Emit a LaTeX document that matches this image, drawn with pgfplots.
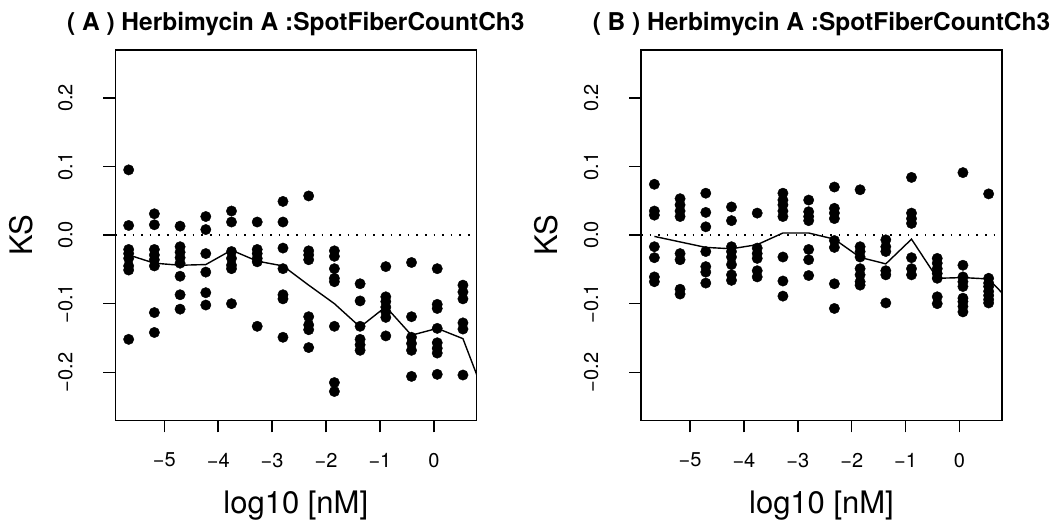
\documentclass[border=0pt]{standalone}
\usepackage{fontspec}
\setmainfont{TeX Gyre Heros}
\usepackage{pgfplots}
\pgfplotsset{compat=1.18}
\usepackage{pgfplotstable}

% Panel A points
\pgfplotstableread{
x y
-5.662 0.095
-5.662 0.014
-5.662 -0.021
-5.662 -0.027
-5.662 -0.034
-5.662 -0.045
-5.662 -0.051
-5.662 -0.152
-5.185 0.031
-5.185 0.015
-5.185 -0.021
-5.185 -0.029
-5.185 -0.036
-5.185 -0.045
-5.185 -0.113
-5.185 -0.142
-4.708 0.013
-4.708 -0.017
-4.708 -0.025
-4.708 -0.033
-4.708 -0.041
-4.708 -0.060
-4.708 -0.087
-4.708 -0.108
-4.231 0.027
-4.231 0.008
-4.231 -0.027
-4.231 -0.054
-4.231 -0.084
-4.231 -0.102
-3.754 0.035
-3.754 0.019
-3.754 -0.024
-3.754 -0.034
-3.754 -0.044
-3.754 -0.049
-3.754 -0.100
-3.277 0.019
-3.277 -0.021
-3.277 -0.027
-3.277 -0.034
-3.277 -0.039
-3.277 -0.133
-2.799 0.049
-2.799 0.019
-2.799 -0.019
-2.799 -0.049
-2.799 -0.087
-2.799 -0.093
-2.799 -0.149
-2.322 0.057
-2.322 -0.023
-2.322 -0.029
-2.322 -0.036
-2.322 -0.119
-2.322 -0.131
-2.322 -0.138
-2.322 -0.164
-1.845 -0.023
-1.845 -0.031
-1.845 -0.049
-1.845 -0.063
-1.845 -0.068
-1.845 -0.133
-1.845 -0.215
-1.845 -0.228
-1.368 -0.071
-1.368 -0.096
-1.368 -0.133
-1.368 -0.152
-1.368 -0.160
-1.368 -0.168
-0.891 -0.046
-0.891 -0.090
-0.891 -0.097
-0.891 -0.105
-0.891 -0.112
-0.891 -0.120
-0.891 -0.147
-0.414 -0.040
-0.414 -0.119
-0.414 -0.149
-0.414 -0.158
-0.414 -0.168
-0.414 -0.206
0.063 -0.049
0.063 -0.101
0.063 -0.107
0.063 -0.136
0.063 -0.157
0.063 -0.165
0.063 -0.172
0.063 -0.203
0.540 -0.073
0.540 -0.083
0.540 -0.093
0.540 -0.128
0.540 -0.137
0.540 -0.204
}\ptsA

\pgfplotstableread{
x y
-5.662 -0.029
-5.185 -0.041
-4.708 -0.044
-4.231 -0.043
-3.754 -0.022
-3.277 -0.038
-2.799 -0.045
-2.322 -0.073
-1.845 -0.100
-1.368 -0.134
-0.891 -0.1045
-0.414 -0.146
0.063 -0.136
0.540 -0.151
1.017 -0.249
}\lineA

% Panel B points
\pgfplotstableread{
x y
-5.662 0.074
-5.662 0.035
-5.662 0.029
-5.662 -0.017
-5.662 -0.033
-5.662 -0.061
-5.662 -0.068
-5.185 0.053
-5.185 0.044
-5.185 0.035
-5.185 0.027
-5.185 -0.027
-5.185 -0.036
-5.185 -0.079
-5.185 -0.086
-4.708 0.061
-4.708 0.033
-4.708 0.012
-4.708 -0.024
-4.708 -0.046
-4.708 -0.054
-4.708 -0.070
-4.231 0.041
-4.231 0.021
-4.231 -0.017
-4.231 -0.024
-4.231 -0.032
-4.231 -0.043
-4.231 -0.058
-4.231 -0.066
-3.754 0.032
-3.754 -0.019
-3.754 -0.027
-3.754 -0.034
-3.754 -0.052
-3.754 -0.061
-3.277 0.061
-3.277 0.051
-3.277 0.044
-3.277 0.035
-3.277 0.027
-3.277 -0.032
-3.277 -0.067
-3.277 -0.089
-2.799 0.051
-2.799 0.034
-2.799 0.027
-2.799 0.021
-2.799 -0.021
-2.799 -0.036
-2.799 -0.059
-2.322 0.070
-2.322 0.039
-2.322 0.032
-2.322 0.024
-2.322 -0.008
-2.322 -0.018
-2.322 -0.071
-2.322 -0.107
-1.845 0.066
-1.845 -0.017
-1.845 -0.024
-1.845 -0.032
-1.845 -0.049
-1.845 -0.058
-1.845 -0.068
-1.845 -0.073
-1.368 -0.007
-1.368 -0.017
-1.368 -0.024
-1.368 -0.052
-1.368 -0.058
-1.368 -0.099
-0.891 0.084
-0.891 0.032
-0.891 0.024
-0.891 0.017
-0.891 -0.033
-0.891 -0.049
-0.891 -0.058
-0.414 -0.034
-0.414 -0.041
-0.414 -0.049
-0.414 -0.056
-0.414 -0.063
-0.414 -0.090
-0.414 -0.100
0.063 0.091
0.063 -0.044
0.063 -0.061
0.063 -0.068
0.063 -0.075
0.063 -0.092
0.063 -0.097
0.063 -0.104
0.063 -0.112
0.540 0.060
0.540 -0.063
0.540 -0.070
0.540 -0.075
0.540 -0.082
0.540 -0.088
0.540 -0.094
0.540 -0.099
}\ptsB

\pgfplotstableread{
x y
-5.662 -0.002
-5.185 -0.010
-4.708 -0.018
-4.231 -0.020
-3.754 -0.014
-3.277 0.003
-2.799 0.003
-2.322 -0.006
-1.845 -0.0325
-1.368 -0.042
-0.891 -0.006
-0.414 -0.063
0.063 -0.062
0.540 -0.064
1.017 -0.103
}\lineB

\begin{document}
\begin{tikzpicture}
\pgfplotsset{
  panel/.style={
    width=361pt, height=370.5pt, scale only axis,
    xmin=-5.91, xmax=0.788, ymin=-0.27, ymax=0.27,
    axis line style={line width=1.5pt},
    tick style={line width=1.5pt, black},
    major tick length=12pt,
    tick align=outside,
    xtick pos=left, ytick pos=left,
    xtick={-5,-4,-3,-2,-1,0},
    xticklabels={−5,−4,−3,−2,−1,0},
    ytick={-0.2,-0.1,0,0.1,0.2},
    yticklabels={−0.2,−0.1,0.0,0.1,0.2},
    ticklabel style={font=\fontsize{20}{22}\selectfont},
    xticklabel shift=17pt,
    yticklabel shift=27pt,
    yticklabel style={rotate=90, anchor=south},
    label style={font=\fontsize{31}{36}\selectfont},
    xlabel={log10 [nM]}, ylabel={KS},
    xlabel style={at={(axis description cs:0.5,-0.231)}, anchor=center, inner sep=0.5pt},
    ylabel style={at={(axis description cs:-0.262,0.5)}, anchor=center},
    title style={font=\bfseries\fontsize{24.5}{28}\selectfont, at={(axis description cs:0.5,1.036)}, anchor=base},
  },
  dots/.style={only marks, mark=*, mark size=5.2pt, black},
  meanline/.style={black, line width=1.4pt, no marks},
  zeroline/.style={black, line width=1.6pt, dash pattern=on 1.6pt off 7pt, no marks},
}
\begin{axis}[panel, at={(115.3pt,99.7pt)}, anchor=south west,
  title={( A ) Herbimycin A :SpotFiberCountCh3}]
  \addplot[dots] table[x=x,y=y] {\ptsA};
  \addplot[meanline] table[x=x,y=y] {\lineA};
  \addplot[zeroline] coordinates {(-5.91,0) (0.788,0)};
\end{axis}
\begin{axis}[panel, at={(641pt,99.7pt)}, anchor=south west,
  title={( B ) Herbimycin A :SpotFiberCountCh3}]
  \addplot[dots] table[x=x,y=y] {\ptsB};
  \addplot[meanline] table[x=x,y=y] {\lineB};
  \addplot[zeroline] coordinates {(-5.91,0) (0.788,0)};
\end{axis}
\pgfresetboundingbox
\path (0pt,0pt) rectangle (1057pt,520pt);
\end{tikzpicture}
\end{document}
